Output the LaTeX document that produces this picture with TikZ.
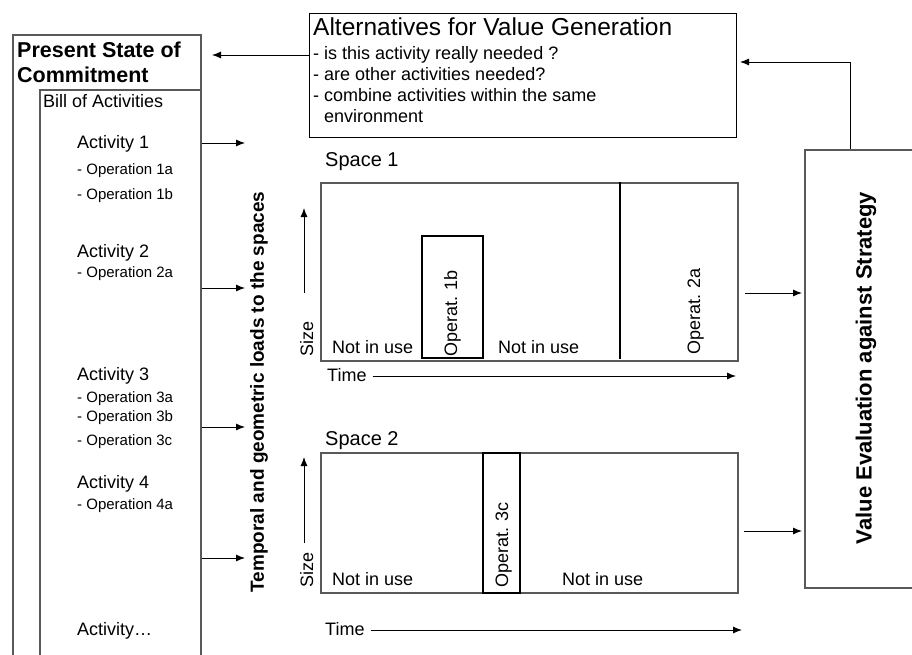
\documentclass[tikz,border=0pt]{standalone}
\usepackage{fontspec}
\setmainfont{Liberation Sans}
\usepackage{tikz}
\usetikzlibrary{positioning, arrows.meta}

\tikzset{
	frame/.style={draw=black!65, line width=1.8pt, rectangle, inner sep=0pt},
	opbox/.style={draw=black, line width=2pt, rectangle, inner sep=0pt},
	link/.style={draw=black, line width=0.9pt, -{Latex[length=9pt, width=7pt]}},
	txt/.style={inner sep=0pt, anchor=base west, font=\fontsize{18}{21}\selectfont},
	optxt/.style={inner sep=0pt, anchor=base west, font=\fontsize{15}{18}\selectfont},
	uptxt/.style={inner sep=0pt, anchor=base west, rotate=90, font=\fontsize{18}{21}\selectfont},
}

\begin{document}
\begin{tikzpicture}[x=1pt, y=-1pt]
	\useasboundingbox (0,0) rectangle (912,655);
	%commitment
	\node[frame, minimum width=188pt, minimum height=650pt, anchor=north west] (present) at (12,34) {};
	\node[frame, minimum width=161pt, minimum height=600pt, anchor=north west] (bill) at (39,89) {};
	\node[txt, font=\bfseries\fontsize{21.5}{25}\selectfont] (present-t1) at (17,58) {Present State of};
	\node[txt, font=\bfseries\fontsize{21.5}{25}\selectfont] (present-t2) at (17,83) {Commitment};
	\node[txt] (bill-t) at (43,108) {Bill of Activities};
	\node[txt] (act1) at (77,149) {Activity 1};
	\node[optxt] (op1a) at (77,175) {- Operation 1a};
	\node[optxt] (op1b) at (77,199) {- Operation 1b};
	\node[txt] (act2) at (77,257) {Activity 2};
	\node[optxt] (op2a) at (77,277) {- Operation 2a};
	\node[txt] (act3) at (77,380) {Activity 3};
	\node[optxt] (op3a) at (77,402) {- Operation 3a};
	\node[optxt] (op3b) at (77,421) {- Operation 3b};
	\node[optxt] (op3c) at (77,445) {- Operation 3c};
	\node[txt] (act4) at (77,488) {Activity 4};
	\node[optxt] (op4a) at (77,509) {- Operation 4a};
	\node[txt] (actn) at (77,635) {Activity\dots};

	%loads
	\node[rotate=90, inner sep=0pt, font=\bfseries\fontsize{19}{22}\selectfont] (loads) at (259,392) {Temporal and geometric loads to the spaces};
	\coordinate (in1) at (245,143);
	\coordinate (in2) at (245,288);
	\coordinate (in3) at (245,427);
	\coordinate (in4) at (245,558);
	\draw[link] (bill.east |- in1) -- (in1);
	\draw[link] (bill.east |- in2) -- (in2);
	\draw[link] (bill.east |- in3) -- (in3);
	\draw[link] (bill.east |- in4) -- (in4);

	%alternatives
	\node[frame, draw=black, line width=1pt, minimum width=427pt, minimum height=124pt, anchor=north west] (alt) at (309,13) {};
	\node[txt, font=\fontsize{24.5}{28}\selectfont] (alt-t) at (313,36) {Alternatives for Value Generation};
	\node[txt] (alt1) at (313,60) {- is this activity really needed ?};
	\node[txt] (alt2) at (313,81) {- are other activities needed?};
	\node[txt] (alt3) at (313,102) {- combine activities within the same};
	\node[txt] (alt4) at (324,123) {environment};
	\coordinate (back) at (212,55);
	\draw[link] (alt.west |- back) -- (back);

	%space 1
	\node[frame, minimum width=417pt, minimum height=178pt, anchor=north west] (space1) at (320,182) {};
	\node[txt, font=\fontsize{20}{24}\selectfont] (space1-t) at (325,167) {Space 1};
	\node[opbox, minimum width=61pt, minimum height=122pt, anchor=south west] (op1b-box) at (421,359) {};
	\draw[opbox] (620,182) -- (620,359);
	\node[txt] (free1a) at (332,353) {Not in use};
	\node[txt] (free1b) at (498,353) {Not in use};
	\node[uptxt] (op1b-t) at (457,357) {Operat. 1b};
	\node[uptxt] (op2a-t) at (700,355) {Operat. 2a};
	\node[uptxt] (size1) at (313,357) {Size};
	\coordinate (size1-a) at (304,293);
	\coordinate (size1-b) at (304,208);
	\draw[link] (size1-a) -- (size1-b);
	\node[txt] (time1) at (327,381) {Time};
	\coordinate (time1-b) at (736,376);
	\draw[link] (time1.east |- time1-b) ++(6,0) -- (time1-b);

	%space 2
	\node[frame, minimum width=417pt, minimum height=140pt, anchor=north west] (space2) at (320,452) {};
	\node[txt, font=\fontsize{20}{24}\selectfont] (space2-t) at (325,445) {Space 2};
	\node[opbox, minimum width=37pt, minimum height=140pt, anchor=north west] (op3c-box) at (482,452) {};
	\node[txt] (free2a) at (332,585) {Not in use};
	\node[txt] (free2b) at (562,585) {Not in use};
	\node[uptxt] (op3c-t) at (508,588) {Operat. 3c};
	\node[uptxt] (size2) at (313,588) {Size};
	\coordinate (size2-a) at (304,543);
	\coordinate (size2-b) at (304,457);
	\draw[link] (size2-a) -- (size2-b);
	\node[txt] (time2) at (325,635) {Time};
	\coordinate (time2-b) at (742,630);
	\draw[link] (time2.east |- time2-b) ++(6,0) -- (time2-b);

	%evaluation
	\node[frame, minimum width=116pt, minimum height=438pt, anchor=north west] (value) at (804,149) {};
	\node[rotate=90, inner sep=0pt, font=\bfseries\fontsize{22}{26}\selectfont] (value-t) at (866,368) {Value Evaluation against Strategy};
	\coordinate (out1) at (0,293);
	\coordinate (out2) at (0,531);
	\draw[link] ([xshift=6pt]space1.east |- out1) -- ([xshift=-2pt]value.west |- out1);
	\draw[link] ([xshift=5pt]space2.east |- out2) -- ([xshift=-2pt]value.west |- out2);
	\coordinate (fb) at (850,62);
	\draw[link] (value.north -| fb) |- ([xshift=3pt]alt.east |- fb);
\end{tikzpicture}
\end{document}
